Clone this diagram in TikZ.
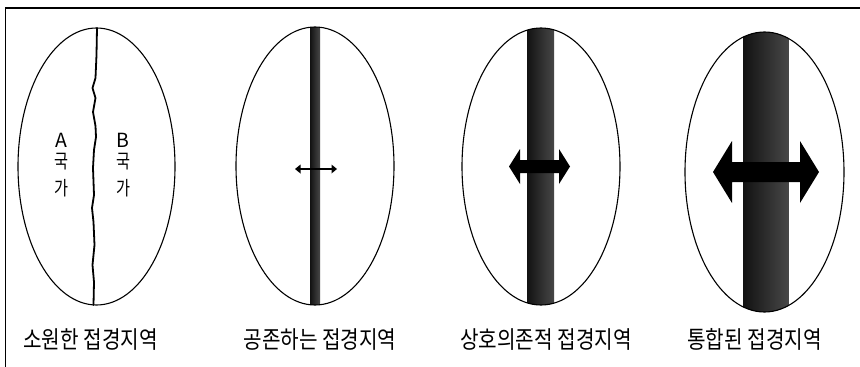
\documentclass[tikz,border=0pt]{standalone}
\usepackage{fontspec}
\newfontfamily\kr{Noto Sans CJK KR}
\newcommand\narrowtxt[1]{\scalebox{0.84}[1]{#1}}
\newcommand\slimtxt[1]{\scalebox{0.78}[1]{#1}}
\tikzset{
  outline/.style={line width=1.1pt, draw=black},
  frameline/.style={line width=1.2pt, draw=black},
  caption/.style={font=\kr\fontsize{24}{26}\selectfont, inner sep=0pt, anchor=base},
  stateletter/.style={font=\kr\fontsize{19.5}{21}\selectfont, inner sep=0pt, anchor=base},
  bandfill/.style={left color=black!93, right color=black!72},
  arrowfill/.style={fill=black},
}
\begin{document}
\begin{tikzpicture}[x=1pt,y=-1pt]
\useasboundingbox (0,0) rectangle (860,367);
\fill[white] (0,0) rectangle (860,367);
% frame (top and left)
\draw[frameline] (860,8) -- (5.5,8) -- (5.5,367);

% ---------- 1: alienated borderland ----------
\coordinate (e1) at (96.5,166.5);
\draw[outline] (e1) ellipse [x radius=78.5, y radius=138.5];
\draw[line width=1.8pt, line join=round, line cap=round]
  (97,28) -- (96.5,55) -- (95.5,78) -- (92.5,88) -- (95.5,98) -- (93,112)
  -- (95.5,126) -- (96,137) -- (94,150) -- (93,168) -- (94,195) -- (92,208)
  -- (93.5,222) -- (94.5,245) -- (92.5,265) -- (94,282) -- (93.5,305);
\node[stateletter] (a1) at (61.5,147) {A};
\node[stateletter] (a2) at (61.5,168.5) {\slimtxt{국}};
\node[stateletter] (a3) at (61.5,195) {\slimtxt{가}};
\node[stateletter] (b1) at (123,147) {B};
\node[stateletter] (b2) at (123,168.5) {\slimtxt{국}};
\node[stateletter] (b3) at (123,195) {\slimtxt{가}};
\node[caption] (c1) at (90.5,348) {\narrowtxt{소원한 접경지역}};

% ---------- 2: coexistent borderland ----------
\coordinate (e2) at (315,166);
\begin{scope}
  \clip (e2) ellipse [x radius=79, y radius=139];
  \fill[bandfill] (310,20) rectangle (320,320);
\end{scope}
\draw[outline] (e2) ellipse [x radius=79, y radius=139];
\fill[arrowfill] (295,169) -- (300.5,164.5) -- (300.5,168.1) -- (331.5,168.1)
  -- (331.5,164.5) -- (337,169) -- (331.5,173.5) -- (331.5,169.9)
  -- (300.5,169.9) -- (300.5,173.5) -- cycle;
\node[caption] (c2) at (320,348) {\narrowtxt{공존하는 접경지역}};

% ---------- 3: interdependent borderland ----------
\coordinate (e3) at (541,166.5);
\begin{scope}
  \clip (e3) ellipse [x radius=79, y radius=138.5];
  \fill[bandfill] (527,20) rectangle (554,320);
\end{scope}
\draw[outline] (e3) ellipse [x radius=79, y radius=138.5];
\fill[arrowfill] (509,166.5) -- (520,149) -- (520,160) -- (559,160) -- (559,149)
  -- (570,166.5) -- (559,184) -- (559,173) -- (520,173) -- (520,184) -- cycle;
\node[caption] (c3) at (546,348) {\narrowtxt{상호의존적 접경지역}};

% ---------- 4: integrated borderland ----------
\coordinate (e4) at (764.5,172);
\begin{scope}
  \clip (e4) ellipse [x radius=79.5, y radius=140];
  \fill[bandfill] (743,20) rectangle (788.5,320);
\end{scope}
\draw[outline] (e4) ellipse [x radius=79.5, y radius=140];
\fill[arrowfill] (713,172) -- (732,141) -- (732,162) -- (800,162) -- (800,141)
  -- (819,172) -- (800,203) -- (800,182) -- (732,182) -- (732,203) -- cycle;
\node[caption] (c4) at (754.5,348) {\narrowtxt{통합된 접경지역}};
\end{tikzpicture}
\end{document}
